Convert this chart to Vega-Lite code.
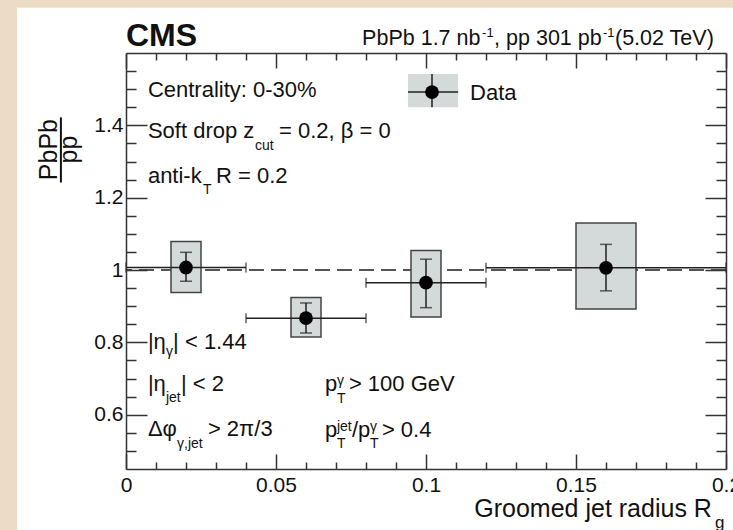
{
  "$schema": "https://vega.github.io/schema/vega-lite/v6.json",
  "width": 600,
  "height": 416,
  "autosize": {"type": "none"},
  "padding": {"left": 126, "top": 53, "right": 7, "bottom": 61},
  "background": "#ecdcc6",
  "config": {
    "view": {"stroke": null},
    "font": "Liberation Sans",
    "text": {"font": "Liberation Sans", "color": "#111"}
  },
  "datasets": {
    "one": [{}],
    "pts": [
      {"x": 0.02, "y": 1.007, "xlo": 0.0, "xhi": 0.04, "slo": 0.969, "shi": 1.049, "bxlo": 0.015, "bxhi": 0.025, "blo": 0.938, "bhi": 1.079},
      {"x": 0.06, "y": 0.867, "xlo": 0.04, "xhi": 0.08, "slo": 0.826, "shi": 0.909, "bxlo": 0.055, "bxhi": 0.065, "blo": 0.815, "bhi": 0.924},
      {"x": 0.10, "y": 0.965, "xlo": 0.08, "xhi": 0.12, "slo": 0.896, "shi": 1.03, "bxlo": 0.095, "bxhi": 0.105, "blo": 0.870, "bhi": 1.054},
      {"x": 0.16, "y": 1.006, "xlo": 0.12, "xhi": 0.2, "slo": 0.9425, "shi": 1.071, "bxlo": 0.15, "bxhi": 0.17, "blo": 0.892, "bhi": 1.13}
    ],
    "txt": [
      {"x": 0.0073, "y": 1.477, "t": "Centrality: 0-30%"},
      {"x": 0.0073, "y": 1.364, "t": "Soft drop z"},
      {"x": 0.051, "y": 1.364, "t": "= 0.2, β = 0"},
      {"x": 0.0073, "y": 1.241, "t": "anti-k"},
      {"x": 0.03, "y": 1.241, "t": "R = 0.2"},
      {"x": 0.0073, "y": 0.783, "t": "|η"},
      {"x": 0.0157, "y": 0.783, "t": "| < 1.44"},
      {"x": 0.0073, "y": 0.667, "t": "|η"},
      {"x": 0.0183, "y": 0.667, "t": "| < 2"},
      {"x": 0.0073, "y": 0.542, "t": "Δφ"},
      {"x": 0.0273, "y": 0.542, "t": "> 2π/3"},
      {"x": 0.0663, "y": 0.667, "t": "p"},
      {"x": 0.0743, "y": 0.667, "t": "> 100 GeV"},
      {"x": 0.0663, "y": 0.539, "t": "p"},
      {"x": 0.0753, "y": 0.539, "t": "/p"},
      {"x": 0.0853, "y": 0.539, "t": "> 0.4"}
    ],
    "sub": [
      {"x": 0.043, "y": 1.333, "t": "cut"},
      {"x": 0.0257, "y": 1.211, "t": "T"},
      {"x": 0.0133, "y": 0.761, "t": "γ"},
      {"x": 0.0133, "y": 0.634, "t": "jet"},
      {"x": 0.017, "y": 0.509, "t": "γ,jet"},
      {"x": 0.0703, "y": 0.633, "t": "T"},
      {"x": 0.0703, "y": 0.681, "t": "γ"},
      {"x": 0.0703, "y": 0.508, "t": "T"},
      {"x": 0.0703, "y": 0.556, "t": "jet"},
      {"x": 0.0813, "y": 0.508, "t": "T"},
      {"x": 0.0813, "y": 0.556, "t": "γ"}
    ],
    "head": [
      {"x": 0.0787, "y": 1.622, "t": "PbPb 1.7 nb"},
      {"x": 0.1227, "y": 1.622, "t": ", pp 301 pb"},
      {"x": 0.163, "y": 1.622, "t": " (5.02 TeV)"}
    ],
    "headsup": [
      {"x": 0.1187, "y": 1.645, "t": "-1"},
      {"x": 0.159, "y": 1.645, "t": "-1"}
    ]
  },
  "resolve": {"axis": {"x": "independent", "y": "independent"}},
  "layer": [
    {
      "data": {"name": "one"},
      "mark": {"type": "rect", "fill": "white", "clip": false},
      "encoding": {
        "x": {"datum": -0.0363, "type": "quantitative", "axis": null},
        "x2": {"datum": 0.25},
        "y": {"datum": 1.725, "type": "quantitative", "axis": null},
        "y2": {"datum": 0.2}
      }
    },
    {
      "data": {"name": "pts"},
      "mark": {"type": "point", "opacity": 0},
      "encoding": {
        "x": {
          "field": "x", "type": "quantitative",
          "scale": {"domain": [0, 0.2], "nice": false, "zero": false},
          "axis": {
            "orient": "bottom", "title": null, "grid": false, "zindex": 1,
            "values": [0, 0.01, 0.02, 0.03, 0.04, 0.05, 0.06, 0.07, 0.08, 0.09, 0.1, 0.11, 0.12, 0.13, 0.14, 0.15, 0.16, 0.17, 0.18, 0.19, 0.2],
            "tickSize": {"condition": {"test": "abs(datum.value*20-round(datum.value*20))<1e-6", "value": -15}, "value": -7},
            "labelExpr": "abs(datum.value*20-round(datum.value*20))<1e-6 ? format(datum.value,'.2~f') : ''",
            "labelPadding": 20, "labelFontSize": 21, "labelFont": "Liberation Sans", "labelColor": "#111",
            "labelFlush": false, "labelOverlap": false, "labelBound": false,
            "tickColor": "#333", "tickWidth": 1.5, "domainColor": "#333", "domainWidth": 1.5
          }
        },
        "y": {
          "field": "y", "type": "quantitative",
          "scale": {"domain": [0.45, 1.6], "nice": false, "zero": false},
          "axis": {
            "orient": "left", "title": null, "grid": false, "zindex": 1,
            "values": [0.5, 0.55, 0.6, 0.65, 0.7, 0.75, 0.8, 0.85, 0.9, 0.95, 1, 1.05, 1.1, 1.15, 1.2, 1.25, 1.3, 1.35, 1.4, 1.45, 1.5, 1.55],
            "tickSize": {"condition": {"test": "abs(datum.value*5-round(datum.value*5))<1e-6", "value": -21}, "value": -10},
            "labelExpr": "abs(datum.value*5-round(datum.value*5))<1e-6 ? format(datum.value,'.2~f') : ''",
            "labelPadding": 24, "labelFontSize": 21, "labelFont": "Liberation Sans", "labelColor": "#111",
            "labelFlush": false, "labelOverlap": false, "labelBound": false,
            "tickColor": "#333", "tickWidth": 1.5, "domainColor": "#333", "domainWidth": 1.5
          }
        }
      }
    },
    {
      "data": {"name": "pts"},
      "mark": {"type": "point", "opacity": 0},
      "encoding": {
        "x": {
          "field": "x", "type": "quantitative",
          "scale": {"domain": [0, 0.2], "nice": false, "zero": false},
          "axis": {
            "orient": "top", "title": null, "grid": false, "zindex": 1, "labels": false,
            "values": [0, 0.01, 0.02, 0.03, 0.04, 0.05, 0.06, 0.07, 0.08, 0.09, 0.1, 0.11, 0.12, 0.13, 0.14, 0.15, 0.16, 0.17, 0.18, 0.19, 0.2],
            "tickSize": {"condition": {"test": "abs(datum.value*20-round(datum.value*20))<1e-6", "value": -15}, "value": -7},
            "tickColor": "#333", "tickWidth": 1.5, "domainColor": "#333", "domainWidth": 1.5
          }
        },
        "y": {
          "field": "y", "type": "quantitative",
          "scale": {"domain": [0.45, 1.6], "nice": false, "zero": false},
          "axis": {
            "orient": "right", "title": null, "grid": false, "zindex": 1, "labels": false,
            "values": [0.5, 0.55, 0.6, 0.65, 0.7, 0.75, 0.8, 0.85, 0.9, 0.95, 1, 1.05, 1.1, 1.15, 1.2, 1.25, 1.3, 1.35, 1.4, 1.45, 1.5, 1.55],
            "tickSize": {"condition": {"test": "abs(datum.value*5-round(datum.value*5))<1e-6", "value": -21}, "value": -10},
            "tickColor": "#333", "tickWidth": 1.5, "domainColor": "#333", "domainWidth": 1.5
          }
        }
      }
    },
    {
      "data": {"name": "one"},
      "mark": {"type": "rule", "color": "#555", "strokeWidth": 2, "strokeDash": [15, 7]},
      "encoding": {"y": {"datum": 1, "type": "quantitative", "axis": null}}
    },
    {
      "data": {"name": "pts"},
      "mark": {"type": "rect", "fill": "#d4d9d9", "stroke": "#444", "strokeWidth": 1.5},
      "encoding": {
        "x": {"field": "bxlo", "type": "quantitative", "axis": null},
        "x2": {"field": "bxhi"},
        "y": {"field": "blo", "type": "quantitative", "axis": null},
        "y2": {"field": "bhi"}
      }
    },
    {
      "data": {"name": "pts"},
      "mark": {"type": "errorbar", "ticks": {"size": 10}, "color": "#222", "thickness": 1.5},
      "encoding": {
        "x": {"field": "xlo", "type": "quantitative", "axis": null},
        "x2": {"field": "xhi"},
        "y": {"field": "y", "type": "quantitative", "axis": null}
      }
    },
    {
      "data": {"name": "pts"},
      "mark": {"type": "errorbar", "ticks": {"size": 12}, "color": "#222", "thickness": 1.5},
      "encoding": {
        "y": {"field": "slo", "type": "quantitative", "axis": null},
        "y2": {"field": "shi"},
        "x": {"field": "x", "type": "quantitative", "axis": null}
      }
    },
    {
      "data": {"name": "pts"},
      "mark": {"type": "point", "shape": "circle", "filled": true, "color": "black", "opacity": 1, "size": 190},
      "encoding": {
        "x": {"field": "x", "type": "quantitative", "axis": null},
        "y": {"field": "y", "type": "quantitative", "axis": null}
      }
    },
    {
      "data": {"name": "one"},
      "mark": {"type": "rect", "fill": "#d4d9d9"},
      "encoding": {
        "x": {"datum": 0.094, "type": "quantitative", "axis": null},
        "x2": {"datum": 0.1107},
        "y": {"datum": 1.45, "type": "quantitative", "axis": null},
        "y2": {"datum": 1.5417}
      }
    },
    {
      "data": {"name": "one"},
      "mark": {"type": "rule", "color": "#222", "strokeWidth": 1.5},
      "encoding": {
        "x": {"datum": 0.094, "type": "quantitative", "axis": null},
        "x2": {"datum": 0.1107},
        "y": {"datum": 1.492, "type": "quantitative", "axis": null}
      }
    },
    {
      "data": {"name": "one"},
      "mark": {"type": "rule", "color": "#222", "strokeWidth": 1.5},
      "encoding": {
        "x": {"datum": 0.102, "type": "quantitative", "axis": null},
        "y": {"datum": 1.45, "type": "quantitative", "axis": null},
        "y2": {"datum": 1.5417}
      }
    },
    {
      "data": {"name": "one"},
      "mark": {"type": "point", "shape": "circle", "filled": true, "color": "black", "opacity": 1, "size": 190},
      "encoding": {
        "x": {"datum": 0.102, "type": "quantitative", "axis": null},
        "y": {"datum": 1.492, "type": "quantitative", "axis": null}
      }
    },
    {
      "data": {"name": "one"},
      "mark": {"type": "text", "align": "left", "baseline": "alphabetic", "fontSize": 22, "text": "Data"},
      "encoding": {
        "x": {"datum": 0.1147, "type": "quantitative", "axis": null},
        "y": {"datum": 1.469, "type": "quantitative", "axis": null}
      }
    },
    {
      "data": {"name": "txt"},
      "mark": {"type": "text", "align": "left", "baseline": "alphabetic", "fontSize": 22},
      "encoding": {
        "x": {"field": "x", "type": "quantitative", "axis": null},
        "y": {"field": "y", "type": "quantitative", "axis": null},
        "text": {"field": "t"}
      }
    },
    {
      "data": {"name": "sub"},
      "mark": {"type": "text", "align": "left", "baseline": "alphabetic", "fontSize": 14},
      "encoding": {
        "x": {"field": "x", "type": "quantitative", "axis": null},
        "y": {"field": "y", "type": "quantitative", "axis": null},
        "text": {"field": "t"}
      }
    },
    {
      "data": {"name": "head"},
      "mark": {"type": "text", "align": "left", "baseline": "alphabetic", "fontSize": 21.5, "clip": false},
      "encoding": {
        "x": {"field": "x", "type": "quantitative", "axis": null},
        "y": {"field": "y", "type": "quantitative", "axis": null},
        "text": {"field": "t"}
      }
    },
    {
      "data": {"name": "headsup"},
      "mark": {"type": "text", "align": "left", "baseline": "alphabetic", "fontSize": 13, "clip": false},
      "encoding": {
        "x": {"field": "x", "type": "quantitative", "axis": null},
        "y": {"field": "y", "type": "quantitative", "axis": null},
        "text": {"field": "t"}
      }
    },
    {
      "data": {"name": "one"},
      "mark": {"type": "text", "align": "left", "baseline": "alphabetic", "fontSize": 32, "fontWeight": "bold", "text": "CMS", "clip": false},
      "encoding": {
        "x": {"datum": 0.0, "type": "quantitative", "axis": null},
        "y": {"datum": 1.619, "type": "quantitative", "axis": null}
      }
    },
    {
      "data": {"name": "one"},
      "mark": {"type": "text", "align": "right", "baseline": "alphabetic", "fontSize": 25, "text": "Groomed jet radius R", "clip": false},
      "encoding": {
        "x": {"datum": 0.1953, "type": "quantitative", "axis": null},
        "y": {"datum": 0.3167, "type": "quantitative", "axis": null}
      }
    },
    {
      "data": {"name": "one"},
      "mark": {"type": "text", "align": "left", "baseline": "alphabetic", "fontSize": 17, "text": "g", "clip": false},
      "encoding": {
        "x": {"datum": 0.1963, "type": "quantitative", "axis": null},
        "y": {"datum": 0.286, "type": "quantitative", "axis": null}
      }
    },
    {
      "data": {"name": "one"},
      "mark": {"type": "text", "align": "center", "baseline": "alphabetic", "fontSize": 25, "angle": 270, "text": "PbPb", "clip": false},
      "encoding": {
        "x": {"datum": -0.023, "type": "quantitative", "axis": null},
        "y": {"datum": 1.333, "type": "quantitative", "axis": null}
      }
    },
    {
      "data": {"name": "one"},
      "mark": {"type": "text", "align": "center", "baseline": "alphabetic", "fontSize": 25, "angle": 270, "text": "pp", "clip": false},
      "encoding": {
        "x": {"datum": -0.0165, "type": "quantitative", "axis": null},
        "y": {"datum": 1.333, "type": "quantitative", "axis": null}
      }
    },
    {
      "data": {"name": "one"},
      "mark": {"type": "rule", "color": "#111", "strokeWidth": 2, "clip": false},
      "encoding": {
        "x": {"datum": -0.0217, "type": "quantitative", "axis": null},
        "y": {"datum": 1.242, "type": "quantitative", "axis": null},
        "y2": {"datum": 1.422}
      }
    }
  ]
}
